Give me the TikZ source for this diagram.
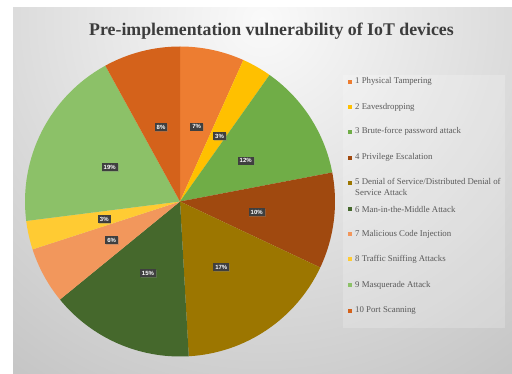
\documentclass[tikz,border=0pt]{standalone}
\usepackage{fontspec}
\setmainfont{Liberation Serif}
\newfontfamily\labelfont{Liberation Sans}
\usetikzlibrary{shadows}

% slice colours
\definecolor{c1}{HTML}{ED7D31}
\definecolor{c2}{HTML}{FFC000}
\definecolor{c3}{HTML}{70AD47}
\definecolor{c4}{HTML}{A0490F}
\definecolor{c5}{HTML}{9C7600}
\definecolor{c6}{HTML}{45682C}
\definecolor{c7}{HTML}{F2975C}
\definecolor{c8}{HTML}{FFCB33}
\definecolor{c9}{HTML}{8CC168}
\definecolor{c10}{HTML}{D4621B}
\definecolor{titlegray}{HTML}{3C3C3C}
\definecolor{legendgray}{HTML}{595959}
\definecolor{boxgray}{HTML}{3F3F3F}

\tikzset{
  pctlabel/.style={fill=boxgray, text=white, font=\labelfont\bfseries\fontsize{6}{7}\selectfont,
    inner xsep=2pt, inner ysep=1.8pt, drop shadow={opacity=0.35, shadow xshift=0.8pt, shadow yshift=-0.8pt}},
  legtext/.style={anchor=west, inner sep=0pt, text=legendgray, font=\fontsize{8.8}{10.7}\selectfont},
  legsquare/.style={minimum size=4pt, inner sep=0pt},
}

\begin{document}
\begin{tikzpicture}[x=1pt,y=-1pt]
\useasboundingbox (0,0) rectangle (512,374);
\fill[white] (0,0) rectangle (512,374);

% chart area with soft radial gradient
\begin{scope}
  \clip (13,8) rectangle (512,374);
  \fill[gray!45] (13,8) rectangle (512,374);
  \shade[inner color=gray!4, outer color=gray!45] (262,20) circle[radius=430pt];
\end{scope}

% title
\node[font=\bfseries\fontsize{17.8}{20}\selectfont, text=titlegray] (title) at (271.5,31.5)
  {Pre-implementation vulnerability of IoT devices};

% pie, clockwise from the top
\begin{scope}[shift={(180,201.5)}, x=1pt, y=1pt]
  \def\R{155}
  \foreach \s/\e/\c in {0/6.7/c1, 6.7/9.8/c2, 9.8/22/c3, 22/32/c4, 32/49.1/c5,
                        49.1/64.1/c6, 64.1/70/c7, 70/73/c8, 73/92/c9, 92/100/c10}{
    \pgfmathsetmacro\aS{90-3.6*\s}
    \pgfmathsetmacro\aE{90-3.6*\e}
    \fill[\c] (0,0) -- (\aS:\R) arc[start angle=\aS, end angle=\aE, radius=\R] -- cycle;
  }
\end{scope}

% percentage labels
\node[pctlabel] (p1)  at (196.7,126.7) {7\%};
\node[pctlabel] (p2)  at (219.5,136)   {3\%};
\node[pctlabel] (p3)  at (245.7,160.7) {12\%};
\node[pctlabel] (p4)  at (256.7,212.3) {10\%};
\node[pctlabel] (p5)  at (221.3,267)   {17\%};
\node[pctlabel] (p6)  at (148,273.3)   {15\%};
\node[pctlabel] (p7)  at (111.7,240)   {6\%};
\node[pctlabel] (p8)  at (104.3,219.3) {3\%};
\node[pctlabel] (p9)  at (109.7,167.3) {19\%};
\node[pctlabel] (p10) at (161,127.3)   {8\%};

% legend
\fill[white, opacity=0.2] (343,75) rectangle (505,328);
\foreach \y/\c/\t [count=\i] in {
    81.7/c1/{1 Physical Tampering},
    107.3/c2/{2 Eavesdropping},
    131.7/c3/{3 Brute-force password attack},
    157.7/c4/{4 Privilege Escalation},
    183.3/c5/{},
    209/c6/{6 Man-in-the-Middle Attack},
    234/c7/{7 Malicious Code Injection},
    259.3/c8/{8 Traffic Sniffing Attacks},
    285/c9/{9 Masquerade Attack},
    310.7/c10/{10 Port Scanning}}{
  \node[legsquare, fill=\c] (m\i) at (350,\y) {};
  \node[legtext] (e\i) at (355,\y) {\t};
}
\node[legtext, anchor=north west, align=left] (e5b) at (355,178.2)
  {5 Denial of Service/Distributed Denial of\\Service Attack};
\end{tikzpicture}
\end{document}
